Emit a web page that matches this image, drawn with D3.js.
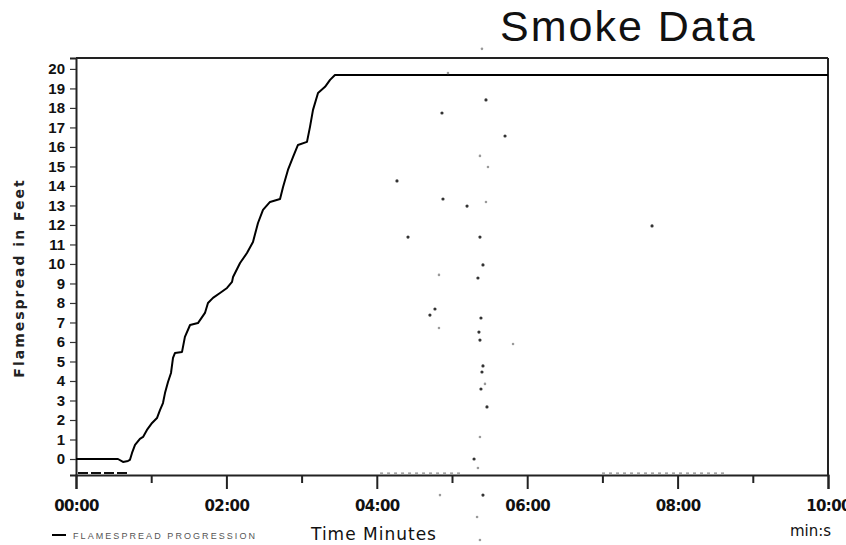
<!DOCTYPE html>
<html>
<head>
<meta charset="utf-8">
<script src="https://cdn.jsdelivr.net/npm/d3@7"></script>
<style>
  html, body { margin: 0; padding: 0; background: #fff; }
  svg { display: block; }
</style>
</head>
<body>
<svg id="chart" width="846" height="545"></svg>
<script>
// ---------- data (time in seconds, flamespread in feet) ----------
const flameTimes = [0, 33.5, 37.5, 41.5, 43, 44.7, 47.1, 51, 53.5, 56.6, 60.7, 64.6, 67, 69.4, 71, 73.4, 75.8,
  77.4, 79, 84.6, 86.9, 91, 97.3, 102.9, 105.3, 109.3, 114.9, 120.5, 124.5, 125.3, 130.9, 136.4, 141.2,
  145.2, 149.2, 154.8, 162.8, 165.2, 169.1, 173.2, 177.1, 184.3, 186.7, 189.1, 193.1, 198.7, 202.7, 206.6, 600];
const flameFeet = [0, 0, -0.15, -0.1, -0.05, 0.31, 0.72, 1.03, 1.13, 1.49, 1.85, 2.1, 2.51, 2.87, 3.38, 3.95, 4.41,
  5.18, 5.44, 5.49, 6.26, 6.87, 6.97, 7.49, 8.0, 8.26, 8.51, 8.77, 9.08, 9.33, 10.05, 10.56, 11.13,
  12.1, 12.77, 13.18, 13.33, 13.95, 14.82, 15.49, 16.1, 16.26, 17.03, 17.9, 18.77, 19.08, 19.44, 19.69, 19.69];

const smokeDarkTimes = [327.1, 292.0, 342.3, 256.1, 292.8, 312.0, 459.6, 322.3, 324.7, 320.7, 286.4, 282.4, 322.3,
  323.9, 323.1, 327.9, 317.6, 324.7, 264.9, 323.1, 321.5, 324.7];
const smokeDarkFeet = [18.41, 17.74, 16.56, 14.26, 13.33, 12.97, 11.95, 11.38, 9.95, 9.28, 7.69, 7.38, 6.10,
  4.46, 3.59, 2.67, 0.0, -1.85, 11.38, 7.23, 6.51, 4.77];

const smokeFaintTimes = [323.9, 296.8, 322.3, 328.7, 327.1, 289.6, 289.6, 348.7, 326.3, 322.3, 320.7, 290.4, 320.0, 322.3];
const smokeFaintFeet = [21.03, 19.79, 15.54, 14.97, 13.18, 9.44, 6.72, 5.90, 3.85, 1.13, -0.46, -1.85, -2.97, -4.15];

const traceStart = [1.6, 242.6, 419.7];
const traceEnd = [41.5, 306.4, 519.4];
const traceFeet = [-0.72, -0.72, -0.72];

const yTickValues = d3.range(0, 21);
const xMajorMinutes = [0, 2, 4, 6, 8, 10];
const xMinorMinutes = [1, 3, 5, 7, 9];
const xTickLabels = ["00:00", "02:00", "04:00", "06:00", "08:00", "10:00"];

// ---------- layout ----------
const svg = d3.select("#chart");
const x = d3.scaleLinear().domain([0, 600]).range([76, 828]);
const y = d3.scaleLinear().domain([-0.82, 20.56]).range([475, 58]);
const frame = "#222";

// title
svg.append("text").attr("x", 500).attr("y", 41)
  .attr("font-family", "Liberation Sans, Arial, sans-serif").attr("font-size", 43)
  .attr("letter-spacing", "2").attr("fill", "#111").text("Smoke Data");

// frame (top + right)
svg.append("line").attr("x1", x(0)).attr("x2", x(600)).attr("y1", y.range()[1]).attr("y2", y.range()[1])
  .attr("stroke", frame).attr("stroke-width", 2);
svg.append("line").attr("x1", x(600)).attr("x2", x(600)).attr("y1", y.range()[1]).attr("y2", y.range()[0])
  .attr("stroke", frame).attr("stroke-width", 2);

// y axis
const yAxis = d3.axisLeft(y).tickValues(yTickValues).tickSize(6).tickPadding(5).tickFormat(d3.format("d"));
const gy = svg.append("g").attr("transform", `translate(${x(0)},0)`).call(yAxis);
gy.select(".domain").attr("stroke", frame).attr("stroke-width", 2);
gy.selectAll(".tick line").attr("stroke", "#333").attr("stroke-width", 1.2);
gy.selectAll(".tick text").attr("font-family", "Liberation Sans, Arial, sans-serif")
  .attr("font-weight", "bold").attr("font-size", 15).attr("fill", "#111");

// x axis major
const xAxisMajor = d3.axisBottom(x).tickValues(xMajorMinutes.map(m => m * 60)).tickSize(14)
  .tickFormat((d, i) => xTickLabels[i]);
const gx = svg.append("g").attr("transform", `translate(0,${y.range()[0]})`).call(xAxisMajor);
gx.select(".domain").attr("stroke", frame).attr("stroke-width", 2);
gx.selectAll(".tick line").attr("stroke", "#222").attr("stroke-width", 2);
gx.selectAll(".tick text").attr("y", 36).attr("dy", null)
  .attr("font-family", "DejaVu Sans, Verdana, sans-serif").attr("font-weight", "bold")
  .attr("font-size", 15).attr("letter-spacing", "-0.6").attr("fill", "#111");

// x axis minor
const xAxisMinor = d3.axisBottom(x).tickValues(xMinorMinutes.map(m => m * 60)).tickSize(8).tickFormat("");
const gxm = svg.append("g").attr("transform", `translate(0,${y.range()[0]})`).call(xAxisMinor);
gxm.select(".domain").remove();
gxm.selectAll(".tick line").attr("stroke", "#222").attr("stroke-width", 2);

// near-axis trace
traceStart.forEach((s, i) => {
  svg.append("line").attr("x1", x(s)).attr("x2", x(traceEnd[i]))
    .attr("y1", y(traceFeet[i])).attr("y2", y(traceFeet[i]))
    .attr("stroke", i === 0 ? "#111" : "#888").attr("stroke-width", i === 0 ? 2 : 1.2)
    .attr("stroke-dasharray", i === 0 ? "10,3" : "3,4");
});

// flame line
const flameData = flameTimes.map((t, i) => [t, flameFeet[i]]);
svg.append("path").datum(flameData)
  .attr("fill", "none").attr("stroke", "#000").attr("stroke-width", 2)
  .attr("stroke-linejoin", "round")
  .attr("d", d3.line().x(d => x(d[0])).y(d => y(d[1])));

// smoke points
svg.append("g").selectAll("circle").data(smokeFaintTimes.map((t, i) => [t, smokeFaintFeet[i]]))
  .join("circle").attr("cx", d => x(d[0])).attr("cy", d => y(d[1])).attr("r", 1.3).attr("fill", "#9a9a9a");
svg.append("g").selectAll("circle").data(smokeDarkTimes.map((t, i) => [t, smokeDarkFeet[i]]))
  .join("circle").attr("cx", d => x(d[0])).attr("cy", d => y(d[1])).attr("r", 1.6).attr("fill", "#333");

// axis titles
svg.append("text").attr("transform", "translate(24,278) rotate(-90)").attr("text-anchor", "middle")
  .attr("font-family", "DejaVu Sans, Verdana, sans-serif").attr("font-weight", "bold")
  .attr("font-size", 14).attr("letter-spacing", "2").attr("fill", "#222").text("Flamespread in Feet");
svg.append("text").attr("x", 374).attr("y", 540).attr("text-anchor", "middle")
  .attr("font-family", "DejaVu Sans, Verdana, sans-serif").attr("font-size", 17)
  .attr("letter-spacing", "1").attr("fill", "#111").text("Time Minutes");
svg.append("text").attr("x", 790).attr("y", 536)
  .attr("font-family", "DejaVu Sans, Verdana, sans-serif").attr("font-size", 15)
  .attr("fill", "#111").text("min:s");

// legend
svg.append("line").attr("x1", 52).attr("x2", 66).attr("y1", 535).attr("y2", 535)
  .attr("stroke", "#000").attr("stroke-width", 2);
svg.append("text").attr("x", 73).attr("y", 539).attr("textLength", 182).attr("lengthAdjust", "spacing")
  .attr("font-family", "Liberation Sans, Arial, sans-serif").attr("font-size", 9)
  .attr("fill", "#555").text("FLAMESPREAD PROGRESSION");
</script>
</body>
</html>
